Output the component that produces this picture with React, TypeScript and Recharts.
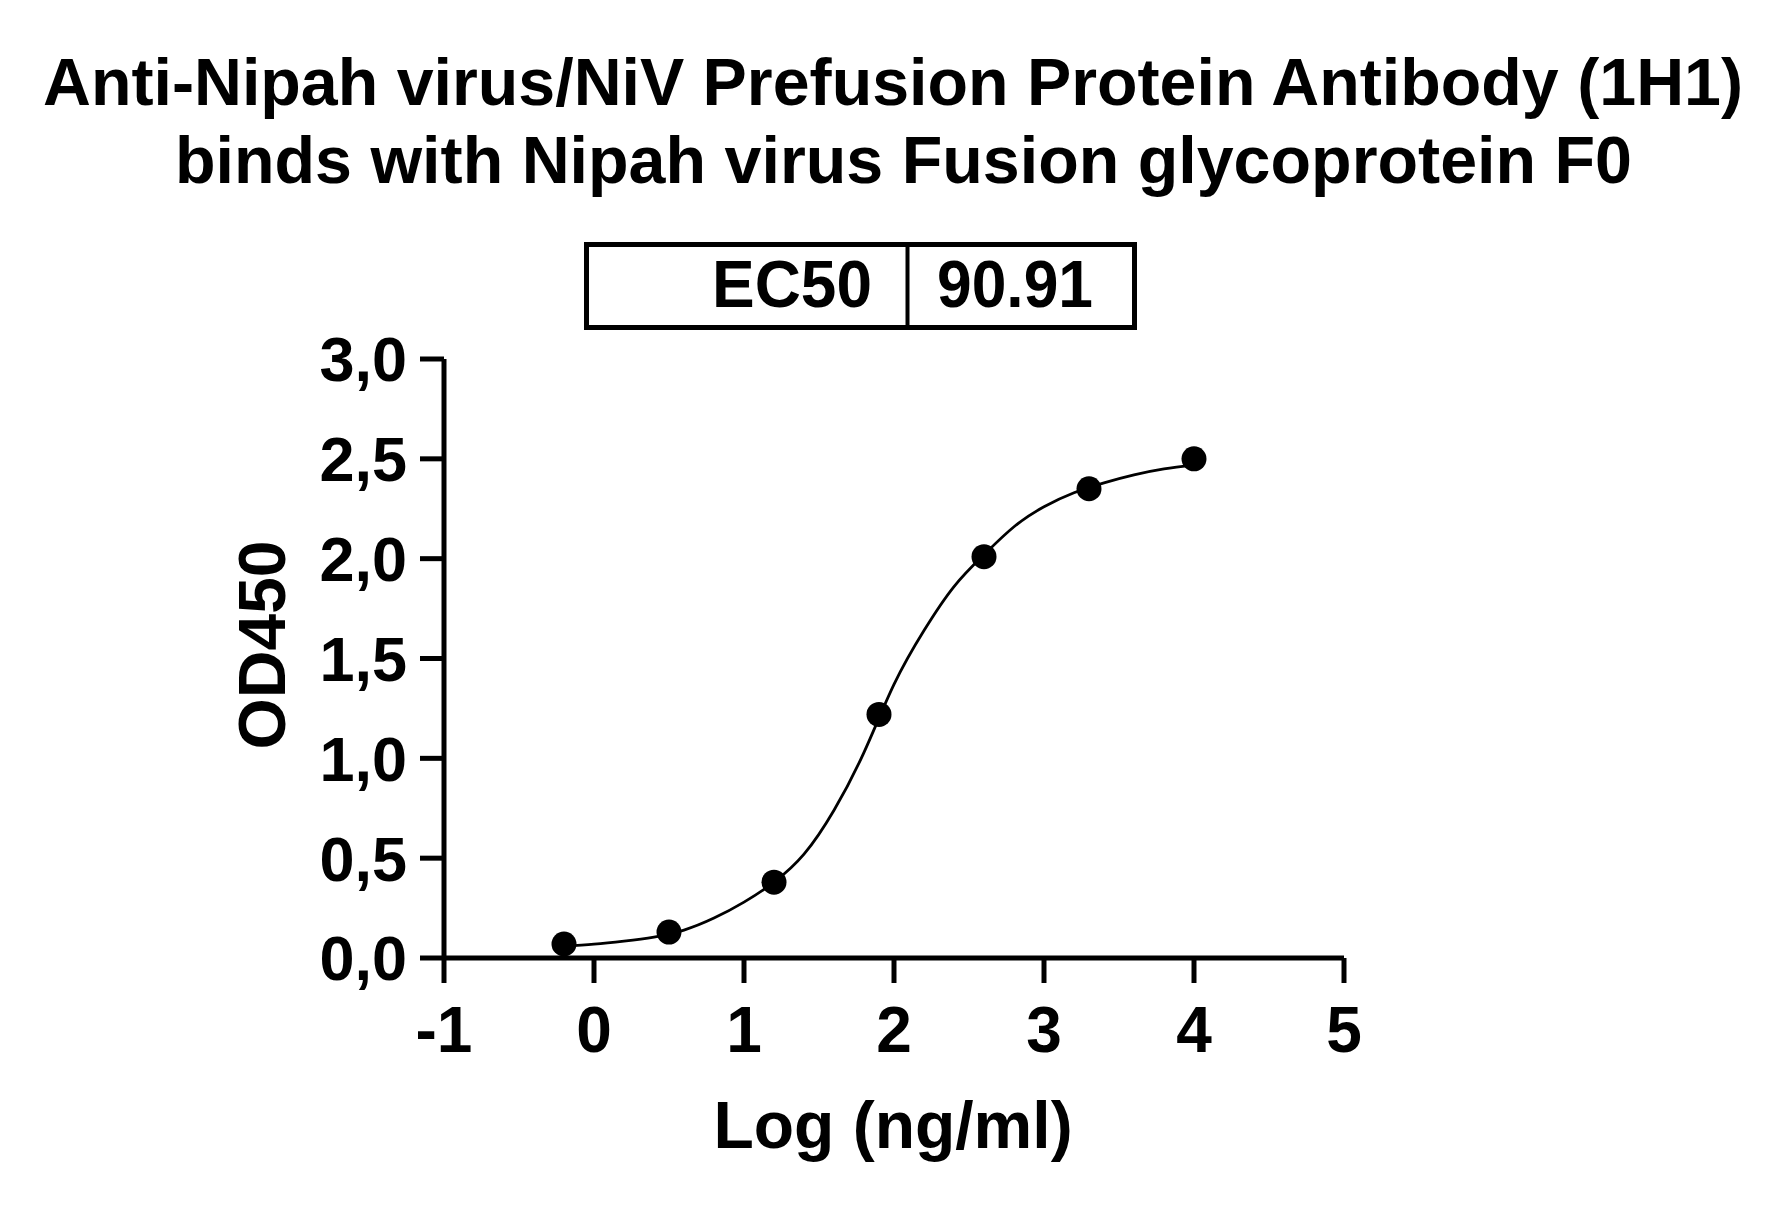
import React from 'react';
import { ComposedChart, Line, Scatter, XAxis, YAxis } from 'recharts';

const titleLine1 = 'Anti-Nipah virus/NiV Prefusion Protein Antibody (1H1)';
const titleLine2 = 'binds with Nipah virus Fusion glycoprotein F0';
const ec50Label = 'EC50';
const ec50Value = '90.91';
const xAxisTitle = 'Log (ng/ml)';
const yAxisTitle = 'OD450';

const xTicks = [-1, 0, 1, 2, 3, 4, 5];
const yTicks = [0, 0.5, 1, 1.5, 2, 2.5, 3];

// measured points
const doseLog = [-0.2, 0.5, 1.2, 1.9, 2.6, 3.3, 4.0];
const od450 = [0.07, 0.13, 0.38, 1.22, 2.01, 2.35, 2.5];

// fitted curve
const fitLogX = [-0.2, 0, 0.2, 0.4, 0.6, 0.8, 1.0, 1.2, 1.4, 1.6, 1.8, 2.0, 2.2, 2.4, 2.6, 2.8, 3.0, 3.2, 3.4, 3.6, 3.8, 4.0];
const fitOD = [0.06, 0.07, 0.085, 0.105, 0.14, 0.2, 0.28, 0.38, 0.52, 0.74, 1.03, 1.37, 1.64, 1.86, 2.02, 2.16, 2.26, 2.33, 2.38, 2.42, 2.45, 2.47];

const points = doseLog.map((x, i) => ({ x, y: od450[i] }));
const curve = fitLogX.map((x, i) => ({ x, y: fitOD[i] }));

const FONT = '"Liberation Sans", Arial, Helvetica, sans-serif';

const Dot = (props: any) => <circle cx={props.cx} cy={props.cy} r={12.5} fill="#000" />;

export default function App() {
  return (
    <div style={{ position: 'absolute', left: 0, top: 0, width: 1789, height: 1207, background: '#fff' }}>
      <ComposedChart
        width={1789}
        height={1207}
        margin={{ top: 359, right: 445, bottom: 189, left: 344 }}
      >
        <XAxis
          dataKey="x"
          type="number"
          domain={[-1, 5]}
          ticks={xTicks}
          interval={0}
          allowDataOverflow
          height={60}
          tickSize={25}
          tickMargin={24}
          axisLine={{ stroke: '#000', strokeWidth: 5 }}
          tickLine={{ stroke: '#000', strokeWidth: 5 }}
          tick={{ fill: '#000', fontSize: 64, fontWeight: 700, fontFamily: FONT }}
          tickFormatter={(v: number) => (v < 0 ? '-' + Math.abs(v) : String(v))}
        />
        <YAxis
          type="number"
          domain={[0, 3]}
          ticks={yTicks}
          interval={0}
          allowDataOverflow
          width={100}
          tickSize={24}
          tickMargin={13}
          axisLine={{ stroke: '#000', strokeWidth: 5 }}
          tickLine={{ stroke: '#000', strokeWidth: 5 }}
          tick={{ fill: '#000', fontSize: 63, fontWeight: 700, fontFamily: FONT }}
          tickFormatter={(v: number) => v.toFixed(1).replace('.', ',')}
        />
        <Line
          data={curve}
          dataKey="y"
          type="natural"
          stroke="#000"
          strokeWidth={2.8}
          dot={false}
          activeDot={false}
          isAnimationActive={false}
        />
        <Scatter data={points} dataKey="y" fill="#000" shape={<Dot />} isAnimationActive={false} />
      </ComposedChart>
      <svg
        width={1789}
        height={1207}
        style={{ position: 'absolute', left: 0, top: 0, pointerEvents: 'none' }}
        fontFamily={FONT}
        fontWeight={700}
        fill="#000"
      >
        <text x={893} y={105} fontSize={66} textAnchor="middle" textLength={1700} lengthAdjust="spacingAndGlyphs">
          {titleLine1}
        </text>
        <text x={903.5} y={183} fontSize={66} textAnchor="middle" textLength={1457} lengthAdjust="spacingAndGlyphs">
          {titleLine2}
        </text>
        <rect x={586.5} y={244.5} width={548} height={83} fill="none" stroke="#000" strokeWidth={5} />
        <line x1={907.5} y1={244} x2={907.5} y2={328} stroke="#000" strokeWidth={4} />
        <text x={712} y={307} fontSize={66} textLength={160} lengthAdjust="spacingAndGlyphs">
          {ec50Label}
        </text>
        <text x={937} y={307} fontSize={66} textLength={156} lengthAdjust="spacingAndGlyphs">
          {ec50Value}
        </text>
        <text x={893} y={1148} fontSize={66} textAnchor="middle">
          {xAxisTitle}
        </text>
        <text transform="translate(285,645) rotate(-90)" fontSize={66} textAnchor="middle">
          {yAxisTitle}
        </text>
      </svg>
    </div>
  );
}
